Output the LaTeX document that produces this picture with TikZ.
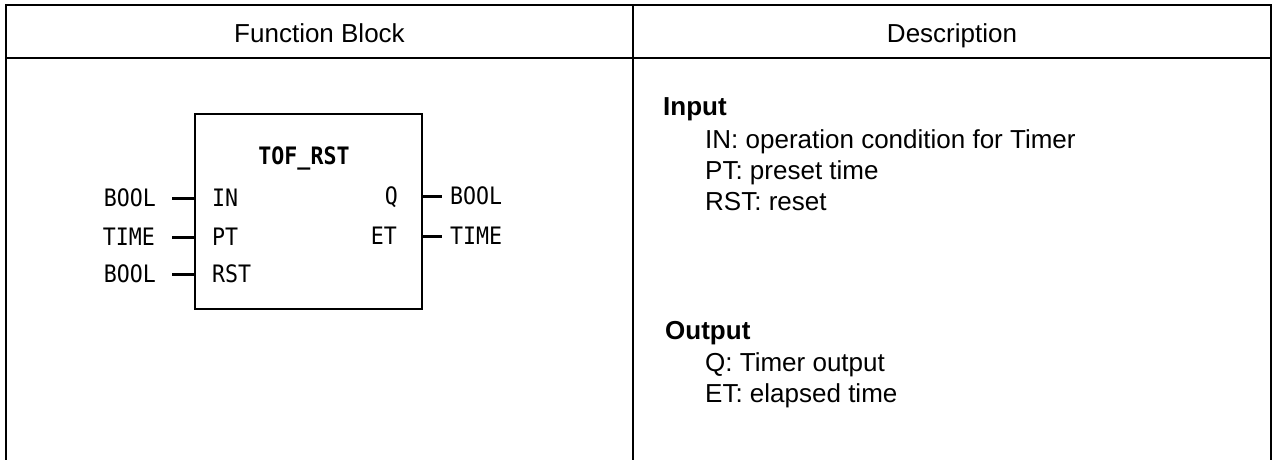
\documentclass[tikz,border=0pt]{standalone}
\usepackage{fontspec}
\setmainfont{Liberation Sans}
\newfontfamily\fbfont[FakeStretch=0.9]{DejaVu Sans Mono}
\usetikzlibrary{positioning}

\begin{document}
\begin{tikzpicture}[x=1pt, y=-1pt,
    frame/.style={line width=2pt},
    fbox/.style={draw, line width=1.8pt, minimum width=227pt, minimum height=195pt, inner sep=0pt},
    mono/.style={font=\fbfont\fontsize{24}{24}\selectfont, inner sep=0pt, text height=17.5pt, text depth=0pt},
    monob/.style={mono, font=\fbfont\bfseries\fontsize{24}{24}\selectfont},
    pin/.style={line width=3pt},
    desc/.style={font=\fontsize{26}{31}\selectfont, inner sep=0pt, anchor=base west},
    head/.style={desc, font=\bfseries\fontsize{26}{31}\selectfont}
]
\useasboundingbox (0,0) rectangle (1275,460);

% Tabla
\draw[frame] (6,460) -- (6,5) -- (1271,5) -- (1271,460);
\draw[frame] (6,58) -- (1271,58);
\draw[frame] (633,5) -- (633,460);
\node[desc, anchor=base] (hBlock) at (319.5,43) {Function Block};
\node[desc, anchor=base] (hDesc)  at (952,43) {Description};

% Bloque de funcion
\node[fbox] (tof) at (308.5,211.5) {};
\node[monob] (title) at (304,156) {TOF\_RST};
\node[mono, anchor=west] (pIN)  at (212,198) {IN};
\node[mono, anchor=west] (pPT)  at (212,237) {PT};
\node[mono, anchor=west] (pRST) at (212,274) {RST};
\node[mono, anchor=east] (pQ)   at (398,196) {Q};
\node[mono, anchor=east] (pET)  at (397,236) {ET};

% Tipos
\node[mono, anchor=east] (tIN)  at (156,198) {BOOL};
\node[mono, anchor=east] (tPT)  at (155,237) {TIME};
\node[mono, anchor=east] (tRST) at (156,274) {BOOL};
\node[mono, anchor=west] (tQ)   at (450,196) {BOOL};
\node[mono, anchor=west] (tET)  at (450,236) {TIME};

% Lineas de entrada y salida
\draw[pin] ([xshift=16pt]tIN.east)  -- (tof.west |- tIN);
\draw[pin] ([xshift=17pt]tPT.east)  -- (tof.west |- tPT);
\draw[pin] ([xshift=16pt]tRST.east) -- (tof.west |- tRST);
\draw[pin] (tof.east |- tQ)  -- ([xshift=-8pt]tQ.west);
\draw[pin] (tof.east |- tET) -- ([xshift=-8pt]tET.west);

% Descripcion
\node[head] (inHead)  at (663,115) {Input};
\node[desc] (dIN)     at (705,148) {IN: operation condition for Timer};
\node[desc] (dPT)     at (705,179) {PT: preset time};
\node[desc] (dRST)    at (705,210) {RST: reset};
\node[head] (outHead) at (665,339) {Output};
\node[desc] (dQ)      at (705,371) {Q: Timer output};
\node[desc] (dET)     at (705,402) {ET: elapsed time};
\end{tikzpicture}
\end{document}
